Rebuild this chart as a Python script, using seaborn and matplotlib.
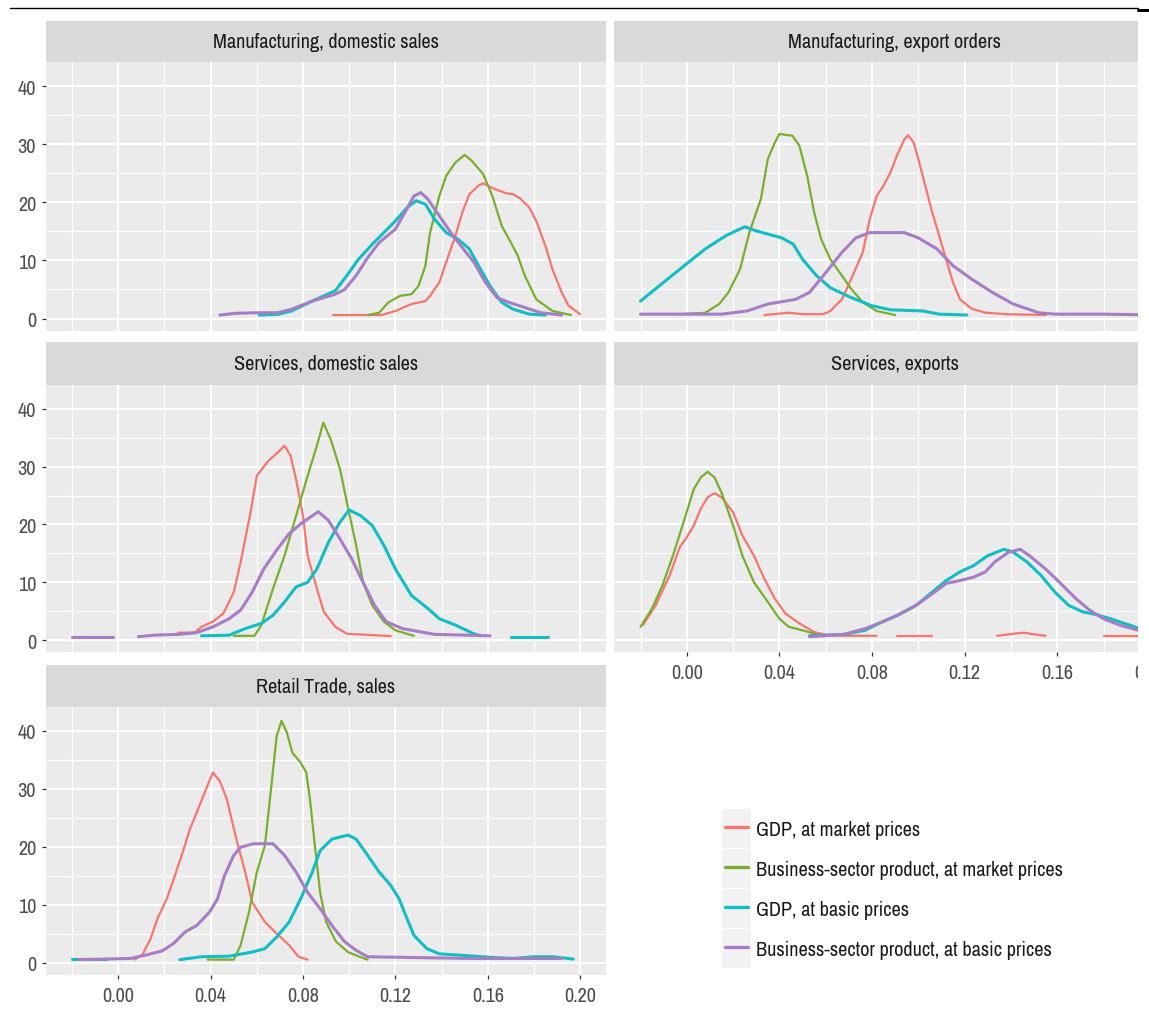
import numpy as np
import pandas as pd
import matplotlib
matplotlib.use("Agg")
import matplotlib.pyplot as plt
import seaborn as sns
from matplotlib import font_manager
from matplotlib.patches import Rectangle
from matplotlib.lines import Line2D
from matplotlib.transforms import Bbox

nan = float("nan")

# ---------------- data ----------------
PANELS = ["Manufacturing, domestic sales", "Manufacturing, export orders",
          "Services, domestic sales", "Services, exports", "Retail Trade, sales"]
SERIES = ["GDP, at market prices", "Business-sector product, at market prices",
          "GDP, at basic prices", "Business-sector product, at basic prices"]
COLORS = ["#F5766E", "#7BAE2E", "#12BEC3", "#A77DC5"]

X_TICKS = [0.00, 0.04, 0.08, 0.12, 0.16, 0.20]
X_TICK_LABELS = ["0.00", "0.04", "0.08", "0.12", "0.16", "0.20"]
Y_TICKS = [0, 10, 20, 30, 40]
Y_TICK_LABELS = ["0", "10", "20", "30", "40"]

# Manufacturing, domestic sales
mds_gdp_mkt_x = [0.093, 0.114, 0.120, 0.127, 0.133, 0.135, 0.139, 0.142, 0.146, 0.149, 0.152, 0.156, 0.158,
                 0.163, 0.168, 0.171, 0.174, 0.178, 0.181, 0.185, 0.188, 0.192, 0.195, 0.200]
mds_gdp_mkt_y = [0.6, 0.6, 1.3, 2.5, 3.0, 3.9, 6.2, 9.7, 14.3, 18.3, 21.4, 22.9, 23.3,
                 22.3, 21.6, 21.4, 20.7, 19.1, 16.8, 12.5, 8.5, 4.5, 2.2, 0.75]
mds_bus_mkt_x = [0.108, 0.113, 0.117, 0.122, 0.127, 0.130, 0.133, 0.135, 0.139, 0.142, 0.146, 0.150, 0.153,
                 0.158, 0.162, 0.166, 0.170, 0.173, 0.176, 0.181, 0.188, 0.196]
mds_bus_mkt_y = [0.6, 1.0, 2.8, 3.9, 4.2, 5.6, 9.1, 14.8, 21.1, 24.6, 26.9, 28.2, 27.2,
                 24.9, 21.1, 16.0, 13.1, 10.8, 7.4, 3.3, 1.3, 0.6]
mds_gdp_bas_x = [0.061, 0.069, 0.075, 0.084, 0.094, 0.099, 0.104, 0.110, 0.115, 0.120, 0.125, 0.129, 0.133,
                 0.137, 0.142, 0.147, 0.152, 0.156, 0.161, 0.166, 0.171, 0.178, 0.185]
mds_gdp_bas_y = [0.6, 0.7, 1.3, 3.0, 4.8, 7.4, 10.2, 12.8, 14.8, 16.8, 19.1, 20.3, 19.7,
                 17.1, 14.8, 13.7, 12.0, 9.1, 5.6, 2.8, 1.6, 0.75, 0.6]
mds_bus_bas_x = [0.044, 0.051, 0.060, 0.069, 0.075, 0.084, 0.094, 0.098, 0.103, 0.108, 0.113, 0.120, 0.125,
                 0.128, 0.131, 0.134, 0.139, 0.144, 0.149, 0.154, 0.159, 0.164, 0.169, 0.176, 0.183, 0.192]
mds_bus_bas_y = [0.6, 0.9, 1.0, 1.0, 1.6, 3.0, 4.2, 5.0, 7.4, 10.5, 13.1, 15.4, 18.9,
                 21.1, 21.7, 20.6, 17.7, 14.8, 12.2, 9.7, 6.2, 3.6, 2.8, 1.9, 1.0, 0.6]

# Manufacturing, export orders
meo_gdp_mkt_x = [0.0335, 0.044, 0.050, 0.059, 0.062, 0.067, 0.071, 0.076, 0.079, 0.082, 0.085, 0.088, 0.091,
                 0.094, 0.0956, 0.098, 0.100, 0.103, 0.106, 0.109, 0.112, 0.115, 0.118, 0.123, 0.129, 0.138, 0.155]
meo_gdp_mkt_y = [0.6, 1.0, 0.75, 0.75, 1.3, 3.3, 6.8, 11.4, 17.1, 21.1, 22.9, 25.2, 28.3,
                 30.9, 31.6, 30.3, 27.5, 22.9, 18.3, 14.3, 10.2, 6.2, 3.3, 1.7, 1.0, 0.75, 0.6]
meo_bus_mkt_x = [-0.003, 0.008, 0.014, 0.018, 0.023, 0.027, 0.032, 0.035, 0.038, 0.040, 0.0456, 0.0486,
                 0.052, 0.055, 0.058, 0.062, 0.067, 0.071, 0.076, 0.082, 0.090]
meo_bus_mkt_y = [0.75, 1.0, 2.5, 4.5, 8.5, 14.8, 20.6, 27.5, 30.3, 31.8, 31.5, 29.8,
                 24.6, 18.3, 13.7, 10.2, 7.4, 5.1, 2.8, 1.3, 0.6]
meo_gdp_bas_x = [-0.020, -0.012, -0.003, 0.008, 0.017, 0.025, 0.030, 0.041, 0.046, 0.050, 0.056, 0.062,
                 0.071, 0.080, 0.088, 0.102, 0.109, 0.121]
meo_gdp_bas_y = [3.0, 5.6, 8.5, 12.0, 14.3, 15.8, 15.1, 13.9, 12.8, 10.2, 7.4, 5.3,
                 3.6, 2.2, 1.5, 1.3, 0.75, 0.6]
meo_bus_bas_x = [-0.020, 0.015, 0.026, 0.035, 0.047, 0.053, 0.059, 0.067, 0.073, 0.079, 0.094, 0.100,
                 0.108, 0.115, 0.123, 0.132, 0.141, 0.152, 0.159, 0.180, 0.205]
meo_bus_bas_y = [0.75, 0.75, 1.3, 2.5, 3.3, 4.5, 7.4, 11.4, 13.9, 14.8, 14.8, 13.9,
                 12.0, 9.1, 6.8, 4.5, 2.5, 1.0, 0.75, 0.75, 0.6]

# Services, domestic sales
sds_gdp_mkt_x = [0.026, 0.033, 0.036, 0.041, 0.0455, 0.050, 0.053, 0.057, 0.060, 0.065, 0.069, 0.072,
                 0.0746, 0.077, 0.080, 0.082, 0.086, 0.089, 0.094, 0.099, 0.111, 0.118]
sds_gdp_mkt_y = [1.3, 1.3, 2.3, 3.2, 4.6, 8.3, 13.5, 21.5, 28.4, 31.0, 32.4, 33.6,
                 31.9, 27.8, 21.5, 14.6, 8.9, 4.9, 2.3, 1.1, 0.86, 0.7]
sds_bus_mkt_x = [0.050, 0.059, 0.062, 0.067, 0.072, 0.077, 0.082, 0.086, 0.0888, 0.092, 0.096, 0.099,
                 0.103, 0.106, 0.110, 0.115, 0.120, 0.128]
sds_bus_mkt_y = [0.75, 0.75, 2.6, 8.9, 14.6, 21.5, 28.4, 33.6, 37.6, 34.7, 29.6, 23.8,
                 16.4, 10.0, 6.0, 3.2, 1.7, 0.75]
sds_gdp_bas_x = [0.036, 0.048, 0.055, 0.062, 0.067, 0.072, 0.077, 0.082, 0.086, 0.091, 0.096, 0.100,
                 0.105, 0.110, 0.115, 0.120, 0.127, 0.134, 0.139, 0.146, 0.154, 0.157, nan, 0.170, 0.186]
sds_gdp_bas_y = [0.75, 0.86, 2.0, 2.9, 4.3, 6.6, 9.2, 10.0, 12.3, 16.9, 20.4, 22.5,
                 21.5, 19.8, 16.4, 12.3, 7.7, 5.5, 3.7, 2.6, 1.1, 0.75, nan, 0.6, 0.6]
sds_bus_bas_x = [-0.020, -0.0024, nan, 0.0087, 0.0156, 0.026, 0.034, 0.041, 0.048, 0.053, 0.058, 0.063,
                 0.069, 0.074, 0.079, 0.084, 0.0866, 0.091, 0.096, 0.101, 0.106, 0.111, 0.116, 0.123,
                 0.130, 0.137, 0.161]
sds_bus_bas_y = [0.6, 0.6, nan, 0.6, 0.86, 1.0, 1.3, 2.3, 3.7, 5.2, 8.3, 12.3,
                 15.8, 18.4, 20.1, 21.5, 22.2, 20.7, 17.5, 14.1, 10.0, 6.0, 3.2, 2.0,
                 1.5, 1.0, 0.75]

# Services, exports
sex_gdp_mkt_x = [-0.019, -0.0135, -0.0074, -0.003, 0.000, 0.003, 0.006, 0.009, 0.012, 0.015, 0.020, 0.024,
                 0.029, 0.0335, 0.038, 0.0426, 0.0486, 0.055, 0.061, 0.068, 0.082, nan, 0.091, 0.106, nan,
                 0.134, 0.141, 0.1456, 0.150, 0.155, nan, 0.180, 0.205]
sex_gdp_mkt_y = [2.6, 6.0, 11.2, 16.1, 17.8, 19.8, 22.7, 24.7, 25.4, 24.7, 22.1, 18.1,
                 14.6, 10.6, 7.2, 4.6, 2.9, 1.4, 0.86, 0.75, 0.75, nan, 0.75, 0.75, nan,
                 0.75, 1.1, 1.3, 1.0, 0.75, nan, 0.75, 0.75]
sex_bus_mkt_x = [-0.020, -0.015, -0.0105, -0.006, -0.0014, 0.003, 0.006, 0.009, 0.012, 0.015, 0.020, 0.024,
                 0.029, 0.035, 0.040, 0.044, 0.050, 0.056, 0.060]
sex_bus_mkt_y = [2.3, 5.5, 9.5, 14.6, 20.4, 26.1, 28.1, 29.1, 28.1, 25.5, 19.8, 14.6,
                 10.0, 6.6, 3.7, 2.3, 1.7, 1.0, 0.75]
sex_gdp_bas_x = [0.053, 0.068, 0.077, 0.083, 0.091, 0.099, 0.106, 0.112, 0.118, 0.124, 0.130, 0.137,
                 0.141, 0.147, 0.153, 0.159, 0.165, 0.171, 0.177, 0.183, 0.189, 0.195, 0.205]
sex_gdp_bas_y = [0.75, 1.0, 1.7, 2.9, 4.3, 6.0, 8.3, 10.3, 11.8, 12.9, 14.6, 15.7,
                 15.2, 13.5, 11.2, 8.3, 6.0, 4.9, 4.4, 3.7, 2.9, 2.1, 1.3]
sex_bus_bas_x = [0.053, 0.068, 0.077, 0.083, 0.091, 0.099, 0.106, 0.112, 0.118, 0.124, 0.129, 0.133,
                 0.139, 0.144, 0.148, 0.155, 0.161, 0.168, 0.174, 0.180, 0.187, 0.195, 0.205]
sex_bus_bas_y = [0.6, 1.0, 2.0, 2.9, 4.3, 6.0, 8.0, 9.8, 10.3, 10.9, 11.8, 13.5,
                 15.2, 15.7, 14.6, 12.3, 10.0, 7.2, 5.2, 3.7, 2.6, 1.7, 1.0]

# Retail Trade, sales
rts_gdp_mkt_x = [0.007, 0.0104, 0.014, 0.017, 0.021, 0.024, 0.0275, 0.031, 0.034, 0.038, 0.041, 0.044,
                 0.047, 0.0515, 0.055, 0.058, 0.0635, 0.0686, 0.074, 0.078, 0.082]
rts_gdp_mkt_y = [0.5, 1.3, 4.1, 7.6, 11.0, 14.4, 18.5, 23.0, 25.9, 29.9, 32.8, 31.3,
                 28.2, 20.7, 15.6, 10.4, 7.0, 5.0, 3.0, 1.0, 0.5]
rts_bus_mkt_x = [0.0387, 0.050, 0.053, 0.0566, 0.060, 0.0635, 0.066, 0.0686, 0.0707, 0.073, 0.0754, 0.079,
                 0.0814, 0.083, 0.085, 0.0874, 0.090, 0.0943, 0.0995, 0.1045, 0.108]
rts_bus_mkt_y = [0.5, 0.5, 3.0, 8.7, 15.6, 20.2, 29.4, 39.1, 41.7, 39.7, 36.2, 34.5,
                 32.8, 28.2, 20.7, 12.1, 7.0, 3.6, 1.8, 1.0, 0.5]
rts_gdp_bas_x = [-0.020, -0.005, nan, 0.0267, 0.036, 0.048, 0.058, 0.0635, 0.0686, 0.074, 0.079, 0.084,
                 0.0874, 0.0925, 0.0995, 0.103, 0.108, 0.113, 0.118, 0.1216, 0.125, 0.128, 0.1336, 0.139,
                 0.147, 0.161, 0.171, 0.180, 0.188, 0.197]
rts_gdp_bas_y = [0.6, 0.6, nan, 0.5, 1.0, 1.1, 1.8, 2.4, 4.4, 7.0, 11.0, 15.6,
                 19.3, 21.3, 22.0, 21.3, 18.5, 15.6, 13.3, 11.0, 7.6, 4.7, 2.4, 1.5,
                 1.3, 0.9, 0.7, 1.0, 1.0, 0.6]
rts_bus_bas_x = [-0.017, 0.0053, 0.012, 0.019, 0.024, 0.029, 0.034, 0.0395, 0.043, 0.046, 0.050, 0.053,
                 0.0585, 0.067, 0.072, 0.077, 0.082, 0.0874, 0.0925, 0.098, 0.103, 0.108, 0.137, 0.154, 0.192]
rts_bus_bas_y = [0.5, 0.7, 1.3, 2.0, 3.3, 5.3, 6.4, 8.7, 11.0, 15.0, 18.5, 19.9,
                 20.5, 20.5, 18.5, 15.6, 12.1, 9.3, 6.4, 3.6, 2.1, 1.0, 0.8, 0.7, 0.7]

CURVES = {
    PANELS[0]: [(mds_gdp_mkt_x, mds_gdp_mkt_y), (mds_bus_mkt_x, mds_bus_mkt_y),
                (mds_gdp_bas_x, mds_gdp_bas_y), (mds_bus_bas_x, mds_bus_bas_y)],
    PANELS[1]: [(meo_gdp_mkt_x, meo_gdp_mkt_y), (meo_bus_mkt_x, meo_bus_mkt_y),
                (meo_gdp_bas_x, meo_gdp_bas_y), (meo_bus_bas_x, meo_bus_bas_y)],
    PANELS[2]: [(sds_gdp_mkt_x, sds_gdp_mkt_y), (sds_bus_mkt_x, sds_bus_mkt_y),
                (sds_gdp_bas_x, sds_gdp_bas_y), (sds_bus_bas_x, sds_bus_bas_y)],
    PANELS[3]: [(sex_gdp_mkt_x, sex_gdp_mkt_y), (sex_bus_mkt_x, sex_bus_mkt_y),
                (sex_gdp_bas_x, sex_gdp_bas_y), (sex_bus_bas_x, sex_bus_bas_y)],
    PANELS[4]: [(rts_gdp_mkt_x, rts_gdp_mkt_y), (rts_bus_mkt_x, rts_bus_mkt_y),
                (rts_gdp_bas_x, rts_gdp_bas_y), (rts_bus_bas_x, rts_bus_bas_y)],
}

rows = []
for panel in PANELS:
    for s, (xs, ys) in enumerate(CURVES[panel]):
        seg = 0
        for xv, yv in zip(xs, ys):
            if np.isnan(xv):
                seg += 1
                continue
            rows.append(dict(panel=panel, series=SERIES[s], seg=f"{s}-{seg}", x=xv, y=yv))
df = pd.DataFrame(rows)

# ---------------- style ----------------
sns.set_theme(style="darkgrid", rc={"axes.facecolor": "#EBEBEB", "grid.color": "white",
                                    "figure.facecolor": "white"})
fams = sorted({f.name for f in font_manager.fontManager.ttflist})
narrow = [f for f in fams if ("Narrow" in f or "Condensed" in f) and "Bold" not in f
          and "Light" not in f and "Black" not in f]
if "Liberation Sans Narrow" in fams:
    FONT, FS = "Liberation Sans Narrow", 15.1
elif narrow:
    FONT, FS = narrow[0], 14.6
else:
    FONT, FS = "Liberation Sans", 12.0
plt.rcParams["font.family"] = [FONT, "DejaVu Sans"]

W, H = 1149, 1012
fig = plt.figure(figsize=(W / 100, H / 100), dpi=100)


def fx(px):
    return px / W


def fy(py):
    return 1 - py / H


COLS = [(45.5, 605.8), (613.9, 1175.5)]
ROWS = [(21.7, 63.3, 331.7), (343.3, 385.7, 653.3), (665.7, 707.7, 975.7)]
XLIM = (-0.0315, 0.2111)
YLIM = (-2.1, 44.15)
LW = [1.6, 1.6, 2.2, 2.2]
CLIP_X = 1137.6

for i, panel in enumerate(PANELS):
    r, c = divmod(i, 2)
    l, rr = COLS[c]
    stop, ptop, pbot = ROWS[r]
    ax = fig.add_axes([fx(l), fy(pbot), (rr - l) / W, (pbot - ptop) / H])
    sub = df[df.panel == panel]
    for s, name in enumerate(SERIES):
        d = sub[sub.series == name]
        sns.lineplot(data=d, x="x", y="y", units="seg", estimator=None, sort=False,
                     color=COLORS[s], linewidth=LW[s], ax=ax, legend=False)
    ax.set_xlim(*XLIM)
    ax.set_ylim(*YLIM)
    ax.set_xticks(X_TICKS)
    ax.set_xticks([-0.02, 0.02, 0.06, 0.10, 0.14, 0.18], minor=True)
    ax.set_yticks(Y_TICKS)
    ax.set_yticks([5, 15, 25, 35], minor=True)
    ax.grid(which="major", color="white", linewidth=1.5)
    ax.grid(which="minor", color="white", linewidth=0.8)
    ax.set_xlabel("")
    ax.set_ylabel("")
    for sp in ax.spines.values():
        sp.set_visible(False)
    ax.tick_params(which="minor", length=0)
    show_y = (c == 0)
    show_x = (i in (3, 4))
    if show_y:
        ax.set_yticklabels(Y_TICK_LABELS)
        ax.tick_params(axis="y", which="major", left=True, length=2.8, width=0.9, color="#333333",
                       labelcolor="#4D4D4D", labelsize=FS, pad=4)
    else:
        ax.tick_params(axis="y", which="major", left=False, labelleft=False)
    if show_x:
        ax.set_xticklabels(X_TICK_LABELS)
        ax.tick_params(axis="x", which="major", bottom=True, length=2.8, width=0.9, color="#333333",
                       labelcolor="#4D4D4D", labelsize=FS, pad=5)
        if c == 1:
            # the reference image is cropped on its right edge
            for tk in ax.xaxis.get_major_ticks():
                tk.label1.set_clip_on(True)
                tk.label1.set_clip_box(Bbox([[0, 0], [CLIP_X, H]]))
    else:
        ax.tick_params(axis="x", which="major", bottom=False, labelbottom=False)

    sax = fig.add_axes([fx(l), fy(ptop), (rr - l) / W, (ptop - stop) / H])
    sax.set_facecolor("#D9D9D9")
    sax.set_xticks([])
    sax.set_yticks([])
    sax.grid(False)
    for sp in sax.spines.values():
        sp.set_visible(False)
    sax.text(0.5, 0.5, panel, transform=sax.transAxes, ha="center", va="center",
             fontsize=FS, color="#1A1A1A")

# ---------------- legend (ggplot style keys) ----------------
key_l, key_r = 721.7, 751.0
key_tops = [810.0, 850.0, 890.0, 930.0]
key_h = 38.5
for s, name in enumerate(SERIES):
    t = key_tops[s]
    fig.patches.append(Rectangle((fx(key_l), fy(t + key_h)), (key_r - key_l) / W, key_h / H,
                                 transform=fig.transFigure, facecolor="#F2F2F2",
                                 edgecolor="none", zorder=5))
    yc = t + key_h / 2 - 1.5
    fig.lines.append(Line2D([fx(725), fx(748)], [fy(yc), fy(yc)], transform=fig.transFigure,
                            color=COLORS[s], linewidth=2.4, zorder=6))
    fig.text(fx(756), fy(t + key_h / 2 + 1), name, ha="left", va="center",
             fontsize=FS, color="#1A1A1A", zorder=6)

# crop artefacts of the reference: white strip on the right, rule on top
fig.patches.append(Rectangle((fx(CLIP_X), 0), (W - CLIP_X) / W, fy(13), transform=fig.transFigure,
                             facecolor="white", edgecolor="none", zorder=20))
fig.lines.append(Line2D([fx(10), fx(1138)], [fy(9.3), fy(9.3)], transform=fig.transFigure,
                        color="black", linewidth=1.0, zorder=21))
fig.lines.append(Line2D([fx(1138), fx(1149)], [fy(10.5), fy(10.5)], transform=fig.transFigure,
                        color="black", linewidth=2.2, zorder=21))

fig.savefig("out.png", dpi=100)
